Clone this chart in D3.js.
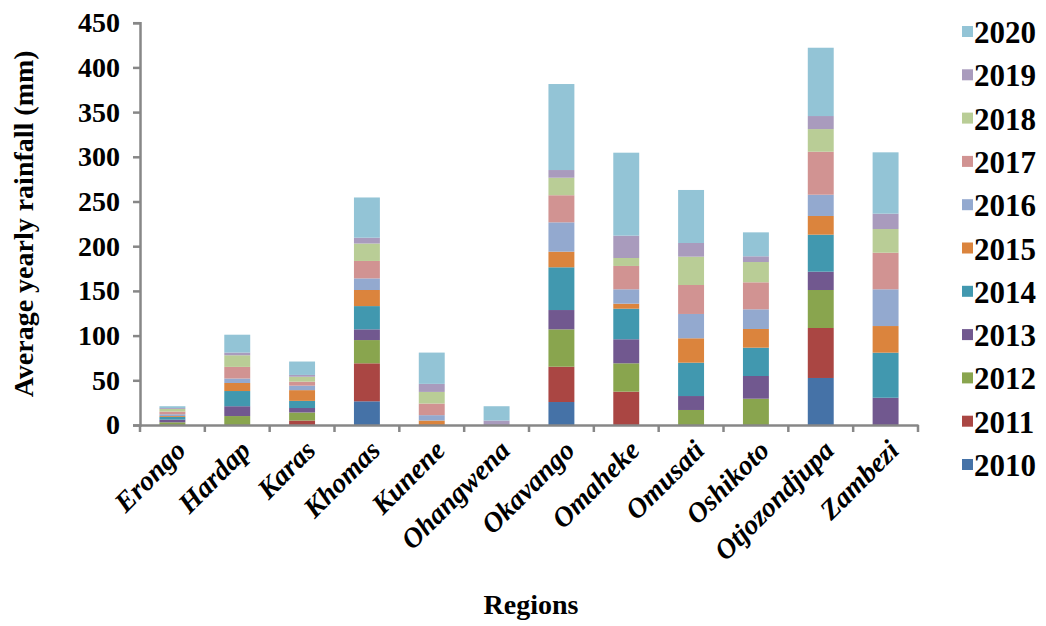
<!DOCTYPE html>
<html><head><meta charset="utf-8">
<script src="https://cdn.jsdelivr.net/npm/d3@7"></script>
<style>body{margin:0;background:#fff}svg{display:block}</style>
</head><body>
<svg id="chart" width="1046" height="626"></svg>
<script>
const categories = ["Erongo","Hardap","Karas","Khomas","Kunene","Ohangwena","Okavango","Omaheke","Omusati","Oshikoto","Otjozondjupa","Zambezi"];
const years = ["2010","2011","2012","2013","2014","2015","2016","2017","2018","2019","2020"];
const y2010 = [0, 0, 0, 26.5, 0, 0, 25.7, 0, 0, 0, 52.6, 0];
const y2011 = [0, 0, 5, 42.5, 0, 0, 39.5, 37.3, 0, 0, 55.9, 0];
const y2012 = [3, 10, 9, 26, 0, 0, 41.8, 31.7, 16.8, 29.4, 42.5, 0];
const y2013 = [3, 11, 5, 12, 0, 0, 21.6, 26.9, 15.6, 25.4, 20.5, 30.5];
const y2014 = [3, 17, 8, 26, 0, 0, 47.8, 34.2, 37.3, 31.7, 41.4, 50.4];
const y2015 = [1, 9, 12, 18, 5, 0, 17.5, 5.6, 27.3, 20.9, 20.9, 29.8];
const y2016 = [2, 5, 5, 13, 6, 0, 32.8, 16.1, 27.2, 22, 23.8, 41.1];
const y2017 = [3, 13, 4.5, 19.5, 13, 0, 30.3, 26.1, 32.4, 30.2, 48.1, 40.9];
const y2018 = [3, 13, 5.5, 19.5, 13, 0, 19.6, 8.9, 31.7, 22.7, 25.3, 26.5];
const y2019 = [1, 3, 2, 6.5, 9, 5, 8.6, 25, 15.3, 6.4, 14.6, 17.2];
const y2020 = [2, 20, 15, 45, 35, 16, 96.2, 92.8, 59.3, 26.8, 76.4, 68.6];
const yTicks = [0, 50, 100, 150, 200, 250, 300, 350, 400, 450];
const colors = ["#4572A7","#AA4643","#89A54E","#71588F","#4198AF","#DB843D","#93A9CF","#D19392","#B9CD96","#A99BBD","#93C4D6"];

const series = [y2010,y2011,y2012,y2013,y2014,y2015,y2016,y2017,y2018,y2019,y2020];
const table = categories.map((c,i)=>{const o={region:c}; years.forEach((yr,k)=>o[yr]=series[k][i]); return o;});
const stacked = d3.stack().keys(years)(table);

const svg = d3.select("#chart");
const font = "'Liberation Serif','Times New Roman',serif";
const plotLeft = 140, plotRight = 918, plotBottom = 425, plotTop = 22.7;

const x = d3.scaleBand().domain(categories).range([plotLeft, plotRight]).paddingInner(0.6).paddingOuter(0.3);
const y = d3.scaleLinear().domain([0, 450]).range([plotBottom, plotTop]);
const color = d3.scaleOrdinal().domain(years).range(colors);

// bars
svg.append("g").selectAll("g").data(stacked).join("g")
  .attr("fill", d => color(d.key))
  .selectAll("rect").data(d => d).join("rect")
  .attr("x", d => x(d.data.region))
  .attr("width", x.bandwidth())
  .attr("y", d => y(d[1]))
  .attr("height", d => Math.max(0, y(d[0]) - y(d[1])));

// y axis
const yAxis = svg.append("g").attr("transform", `translate(${plotLeft},0)`)
  .call(d3.axisLeft(y).tickValues(yTicks).tickSize(7).tickPadding(13));
yAxis.select(".domain").attr("stroke", "#878787").attr("stroke-width", 2.5);
yAxis.selectAll(".tick line").attr("stroke", "#878787").attr("stroke-width", 2.5);
yAxis.selectAll("text").attr("font-family", font).attr("font-weight", "bold").attr("font-size", 28).attr("fill", "#000");

// x axis
const xAxis = svg.append("g").attr("transform", `translate(0,${plotBottom})`)
  .call(d3.axisBottom(x).tickSize(0).tickFormat(""));
xAxis.select(".domain").attr("stroke", "#878787").attr("stroke-width", 2.5);
const step = x.step();
const boundaries = d3.range(categories.length + 1).map(i => plotLeft + i * step);
xAxis.selectAll(".bnd").data(boundaries).join("line").attr("class","bnd")
  .attr("x1", d => d).attr("x2", d => d).attr("y1", 0).attr("y2", 7)
  .attr("stroke", "#878787").attr("stroke-width", 2.5);
xAxis.selectAll(".lbl").data(categories).join("text").attr("class","lbl")
  .attr("transform", d => `translate(${x(d) + x.bandwidth()/2 + 15},${27}) rotate(-45)`)
  .attr("text-anchor", "end")
  .attr("font-family", font).attr("font-weight", "bold").attr("font-style", "italic")
  .attr("font-size", 28).attr("fill", "#000")
  .text(d => d);

// axis titles
svg.append("text").attr("transform", `translate(33,${(plotTop+plotBottom)/2}) rotate(-90)`)
  .attr("text-anchor", "middle").attr("font-family", font).attr("font-weight", "bold")
  .attr("font-size", 28).text("Average yearly rainfall (mm)");
svg.append("text").attr("x", 531).attr("y", 614)
  .attr("text-anchor", "middle").attr("font-family", font).attr("font-weight", "bold")
  .attr("font-size", 28).text("Regions");

// legend
const legendYears = years.slice().reverse();
const lg = svg.append("g");
const item = lg.selectAll("g").data(legendYears).join("g")
  .attr("transform", (d,i) => `translate(962,${32 + i*43.3})`);
item.append("rect").attr("x", 0).attr("y", -6).attr("width", 11).attr("height", 11).attr("fill", d => color(d));
item.append("text").attr("x", 12).attr("y", 11).attr("font-family", font).attr("font-weight", "bold")
  .attr("font-size", 31).attr("fill", "#000").text(d => d);
</script>
</body></html>
